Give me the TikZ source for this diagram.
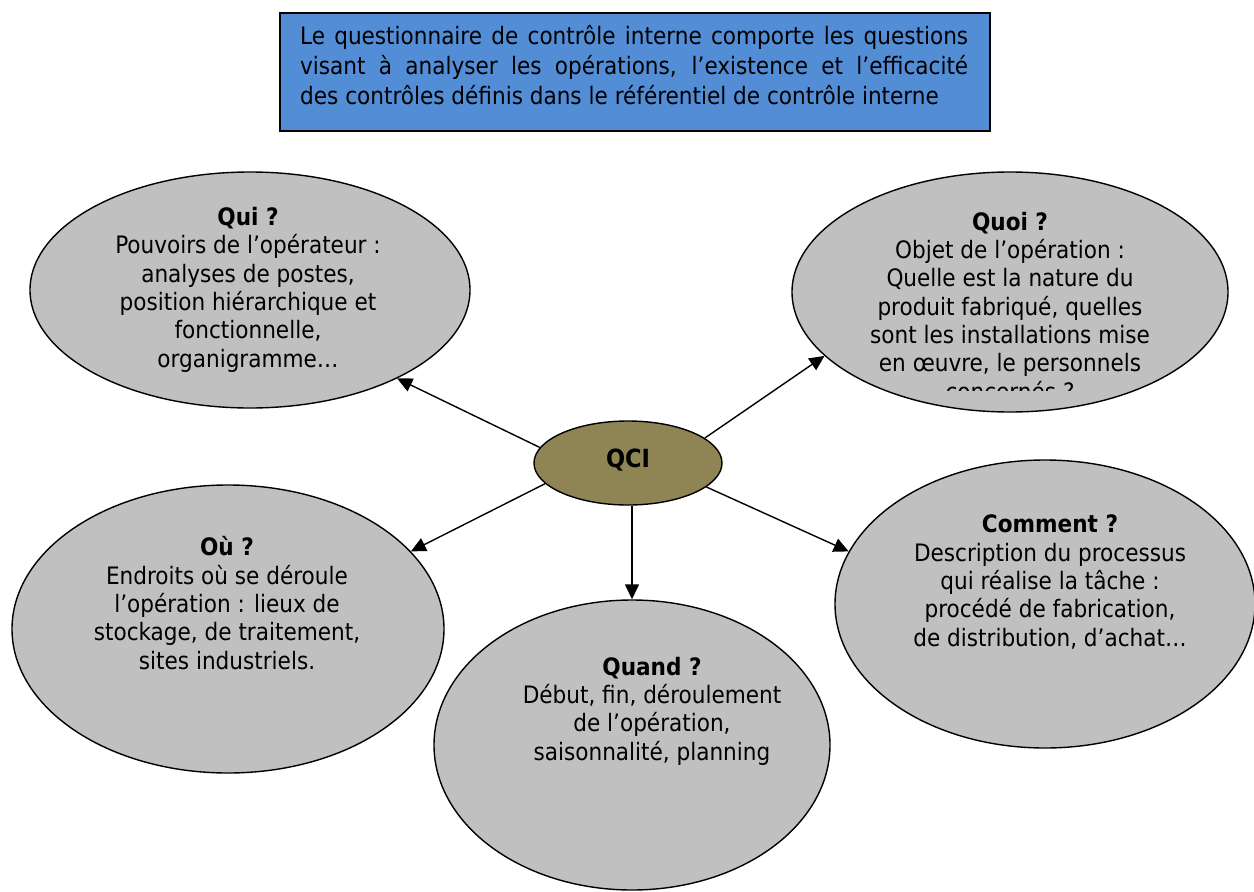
\documentclass[tikz,border=0pt]{standalone}
\usepackage{fontspec}
\setmainfont{DejaVu Sans Condensed}
\usetikzlibrary{shapes.geometric,arrows.meta}
\definecolor{boxblue}{RGB}{83,141,213}
\definecolor{bubblegray}{RGB}{192,192,192}
\definecolor{qciolive}{RGB}{143,132,84}
\begin{document}
\begin{tikzpicture}[x=1pt,y=-1pt,
  bubble/.style={ellipse,draw=black,line width=1.4pt,fill=bubblegray,inner sep=0pt},
  % multi-line texts are placed by the baseline of their last line
  bubbletext/.style={align=center,font=\fontsize{24}{28.3}\selectfont,inner sep=0pt,anchor=base},
  link/.style={line width=1.4pt,-{Triangle[length=15pt,width=14pt]}}]
\useasboundingbox (0,0) rectangle (1254,892);

% heading box
\node[draw,line width=1.5pt,fill=boxblue,minimum width=710pt,minimum height=118pt,
      inner sep=0pt,anchor=north west] (intro) at (279,12) {};
\node[anchor=base west,inner sep=0pt,align=left,font=\fontsize{24}{30}\selectfont] (introtext) at (300,104)
  {\makebox[668pt][s]{Le questionnaire de contrôle interne comporte les questions}\\
   \makebox[668pt][s]{visant à analyser les opérations, l’existence et l’efficacité}\\
   des contrôles définis dans le référentiel de contrôle interne};

% bubbles
\node[bubble,minimum width=440pt,minimum height=236pt] (qui) at (250,290) {};
\node[bubble,minimum width=436pt,minimum height=240pt] (quoi) at (1010,292) {};
\node[bubble,minimum width=432pt,minimum height=288pt] (ou) at (228,629) {};
\node[bubble,minimum width=420pt,minimum height=288pt] (comment) at (1045,604) {};
\node[bubble,minimum width=396pt,minimum height=290pt] (quand) at (632,745) {};
\node[ellipse,draw=black,line width=1.4pt,fill=qciolive,inner sep=0pt,
      minimum width=188pt,minimum height=84pt] (qci) at (628,463) {};
\node[inner sep=0pt,font=\bfseries\fontsize{25}{28}\selectfont] (qcitext) at (628,460) {QCI};

% bubble texts
\node[bubbletext] (quitext) at (248,367)
  {\textbf{Qui ?}\\ Pouvoirs de l’opérateur :\\ analyses de postes,\\
   position hiérarchique et\\ fonctionnelle,\\ organigramme…};
\begin{scope}
  \clip (795,180) rectangle (1225,390);
  \node[bubbletext] (quoitext) at (1010,400)
    {\textbf{Quoi ?}\\ Objet de l’opération :\\ Quelle est la nature du\\
     produit fabriqué, quelles\\ sont les installations mise\\
     en œuvre, le personnels\\ concernés ?};
\end{scope}
\node[bubbletext] (outext) at (227,669)
  {\textbf{Où ?}\\ Endroits où se déroule\\ l’opération : lieux de\\
   stockage, de traitement,\\ sites industriels.};
\node[bubbletext] (commenttext) at (1050,646)
  {\textbf{Comment ?}\\ Description du processus\\ qui réalise la tâche :\\
   procédé de fabrication,\\ de distribution, d’achat…};
\node[bubbletext] (quandtext) at (652,760)
  {\textbf{Quand ?}\\ Début, fin, déroulement\\ de l’opération,\\ saisonnalité, planning};

% connectors
\draw[link] (qci.170) -- (qui.329);
\draw[link] (qci.18) -- (quoi.199.6);
\draw[link] (qci.194.5) -- (ou.23.3);
\draw[link] (qci.south -| quand.north) -- (quand.north);
\draw[link] (qci.343.7) -- (comment.165.2);
\end{tikzpicture}
\end{document}
